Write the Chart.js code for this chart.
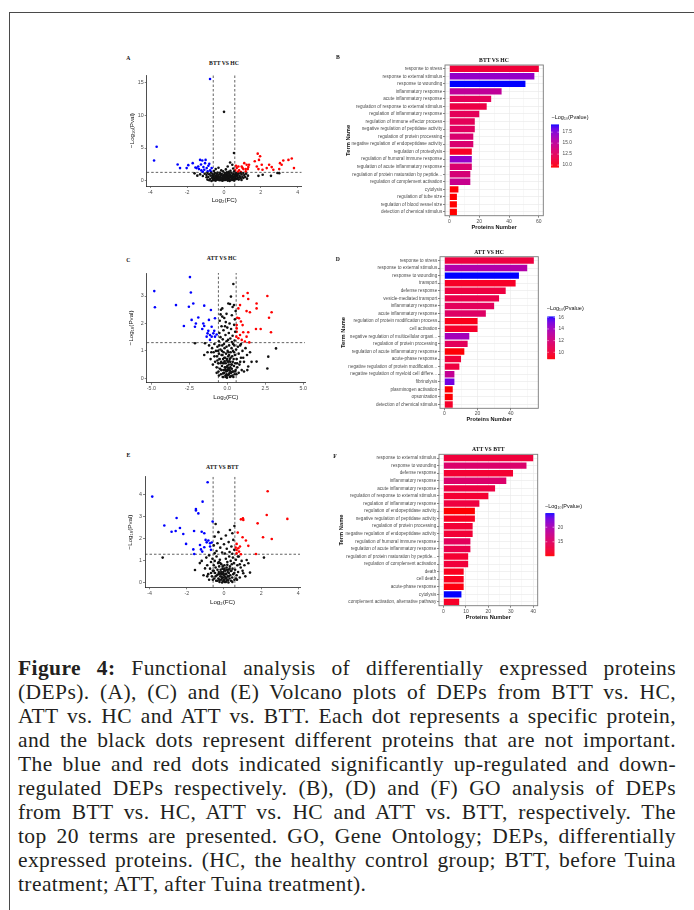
<!DOCTYPE html>
<html><head><meta charset="utf-8">
<script src="https://cdn.jsdelivr.net/npm/chart.js@4.4.1/dist/chart.umd.min.js"></script>
<style>
body{margin:0;background:#fff;}
#page{position:relative;width:694px;height:910px;overflow:hidden;background:#fff;}
canvas{position:absolute;}
.lbl{position:absolute;font-family:'Liberation Serif',serif;font-weight:bold;font-size:5.7px;color:#111;transform:translate(-50%,-50%);white-space:nowrap;}
.cap{position:absolute;left:18px;font-family:'Liberation Serif',serif;font-size:21.5px;letter-spacing:0.4px;line-height:24px;color:#231f20;white-space:nowrap;}
</style></head>
<body><div id="page">
<div style="position:absolute;left:9px;top:12px;right:0;height:1px;background:#4a4a4a"></div>
<div style="position:absolute;left:9px;top:12px;width:1px;bottom:0;background:#4a4a4a"></div>
</div>
<script>
// ---------------- DATA ----------------
const FC_CUT = 0.585, P_CUT = 1.301;

// Panel A: BTT VS HC volcano  [log2FC, -log10 P]
const aBlue = [[-0.76,15.5],[-3.66,5.2],[-3.8,3.1],[-2.52,2.5],[-2.39,1.95],[-2.03,1.95],[-1.94,2.4],[-1.7,2.7],[-1.3,3.2],[-1.18,3.1],[-1.4,2.2],[-1.49,1.95],[-1.25,2.5],[-1.12,2.1],[-1.03,2.7],[-0.94,1.95],[-0.85,2.3],[-1.07,1.7],[-0.76,1.6],[-0.67,1.95],[-1.23,1.6],[-1.36,1.8],[-0.89,1.45],[-1.0,3.2],[-0.7,1.4],[-1.55,2.05],[-0.8,2.6],[-1.15,1.4]];
const aRed = [[1.18,1.8],[0.69,1.95],[0.82,1.6],[0.96,2.2],[1.1,2.7],[1.23,2.46],[1.32,2.1],[0.92,1.35],[1.05,1.8],[0.6,1.6],[0.78,2.2],[1.18,1.45],[1.36,2.46],[1.29,1.8],[1.83,4.15],[1.96,3.75],[1.67,3.0],[1.9,3.2],[2.05,2.46],[1.78,2.2],[2.09,1.7],[1.87,1.8],[2.32,1.95],[2.45,2.46],[2.59,2.1],[2.68,1.7],[3.04,2.7],[3.22,3.1],[3.5,3.2],[3.68,3.4],[3.8,1.95],[3.13,2.46],[3.0,1.8],[0.75,1.4],[1.0,2.0],[0.65,2.3]];
const aGrey = [[0.0,10.5],[0.54,4.25],[0.33,2.8],[0.45,2.46],[0.2,2.2],[-0.3,2.0],[0.5,1.9],[-0.45,1.8],[0.1,1.75],[-0.15,1.6],[0.35,1.55],[0.55,1.45],[-0.55,1.5],[-0.05,1.45],[0.25,1.4],
[-1.05,1.1],[-0.95,0.9],[-0.9,1.2],[-0.85,0.6],[-0.8,1.0],[-0.75,0.3],[-0.72,0.8],[-0.7,1.25],[-0.65,0.5],[-0.62,1.05],[-0.6,0.15],[-0.58,0.7],[-0.55,0.95],[-0.52,0.35],[-0.5,1.2],[-0.48,0.6],[-0.45,0.05],[-0.43,0.85],[-0.4,0.4],[-0.38,1.1],[-0.35,0.2],[-0.33,0.7],[-0.3,0.95],[-0.28,0.45],[-0.25,0.1],[-0.23,1.25],[-0.2,0.6],[-0.18,0.3],[-0.15,0.85],[-0.12,1.05],[-0.1,0.5],[-0.08,0.02],[-0.05,0.75],[-0.03,0.3],[0.0,0.95],[0.02,0.55],[0.04,1.2],[0.06,0.15],[0.08,0.7],[0.1,0.4],[0.12,1.0],[0.14,0.2],[0.16,0.6],[0.18,0.9],[0.2,0.05],[0.22,0.45],[0.24,1.15],[0.26,0.75],[0.28,0.3],[0.3,0.55],[0.32,0.95],[0.35,0.1],[0.38,0.65],[0.4,1.25],[0.42,0.35],[0.45,0.85],[0.48,0.5],[0.5,1.05],[0.52,0.2],[0.55,0.7],[0.58,0.4],[0.6,1.0],[0.63,0.6],[0.66,1.2],[0.7,0.3],[0.73,0.85],[0.76,0.5],[0.8,1.1],[0.85,0.75],[0.9,0.4],[0.95,1.0],[1.0,0.65],[1.05,1.2],[1.1,0.9],[1.2,1.1],[1.3,0.8],[-1.3,1.0],[-1.45,0.8],[-1.6,1.15],[1.87,0.77],[2.1,0.95],[2.55,0.77],[3.0,1.18],[2.9,1.2],[-0.35,1.28],[0.15,1.3],[-0.68,0.0],[0.3,0.0],[-0.2,0.9],[0.05,0.4],[-0.1,0.25],[0.1,0.8],[-0.4,0.65],[0.45,0.15],[0.65,0.85],[-0.25,0.55],[0.2,1.05],
[-0.9,0.2],[-0.8,0.1],[-0.6,0.45],[-0.5,0.1],[-0.35,0.5],[-0.15,0.1],[-0.05,0.55],[0.0,0.15],[0.05,0.9],[0.12,0.55],[0.25,0.2],[0.35,0.8],[0.45,0.6],[0.55,0.05],[0.62,0.25],[0.7,0.7],[0.8,0.2],[0.88,0.55],[0.95,0.15],[1.05,0.45],[1.15,0.6],[1.25,0.35],[-0.95,0.55],[-1.15,0.75],[-0.3,0.3],[0.15,0.35],[-0.45,0.25],[0.4,0.45],[-0.2,1.1],[0.3,1.2],[0.7,1.05],[0.9,1.25],[-0.6,0.85]];
const aXTicks = [-4,-2,0,2,4], aXLabels = ['-4','-2','0','2','4'];
const aYTicks = [0,5,10,15], aYLabels = ['0','5','10','15'];

// Panel C: ATT VS HC volcano
const cBlue = [[-4.81,3.18],[-4.77,2.59],[-3.38,2.67],[-2.46,3.69],[-2.4,3.13],[-2.53,2.61],[-2.24,2.73],[-2.35,2.13],[-2.86,1.91],[-1.91,2.22],[-2.07,2.0],[-2.13,1.88],[-1.52,2.65],[-1.58,2.0],[-1.52,1.91],[-1.65,1.8],[-1.36,1.52],[-1.08,2.49],[-1.21,2.13],[-0.81,2.19],[-1.03,1.88],[-1.25,1.73],[-1.14,1.58],[-0.92,1.64],[-0.81,1.52],[-1.03,1.52],[-0.7,1.6],[-1.14,1.4],[-0.86,1.73],[-1.3,1.64]];
const cRed = [[1.34,3.11],[1.05,3.0],[1.38,2.89],[0.84,2.67],[0.73,2.55],[1.27,2.45],[1.49,2.41],[1.93,2.73],[1.93,2.55],[2.64,3.0],[2.92,2.41],[2.75,2.21],[1.89,1.8],[2.2,1.8],[2.88,1.68],[0.66,2.21],[0.77,2.19],[0.9,2.07],[1.01,1.94],[0.62,1.94],[0.62,1.7],[0.84,1.58],[1.05,1.68],[1.27,1.52],[1.38,1.68],[0.6,1.52],[0.73,1.46],[0.95,1.4],[1.16,1.34],[1.45,1.31],[0.62,1.82]];
const cGrey = [[0.4,3.44],[0.24,2.98],[0.18,2.71],[0.44,2.67],[0.07,2.73],[-0.33,2.55],[-0.44,2.33],[-0.33,2.25],[-0.2,2.2],[0.3,2.3],[0.5,2.15],[-0.5,2.1],[-0.1,2.05],[0.15,2.0],[0.45,1.95],[-0.38,1.9],[0.0,1.85],[0.25,1.8],[-0.25,1.75],[0.52,1.7],[-0.52,1.65],[0.1,1.65],[-0.12,1.58],[0.35,1.55],[-0.45,1.5],[0.2,1.45],[-0.3,1.42],[0.05,1.4],[0.48,1.38],[-0.05,1.35],[0.3,1.32],[-0.55,1.35],[-0.15,1.9],[0.55,2.45],[-0.05,2.35],[0.35,2.6],[-0.42,2.5],
[-1.52,0.85],[-2.13,1.28],[-1.47,1.28],[-1.2,1.2],[-1.0,1.1],[-0.9,0.95],[-1.1,0.7],[-0.85,1.25],[-0.8,0.6],[-0.75,1.0],[-0.7,0.4],[-0.68,0.8],[-0.65,1.15],[-0.6,0.55],[-0.58,0.25],[-0.55,0.9],[-0.52,1.2],[-0.5,0.7],[-0.48,0.35],[-0.45,1.05],[-0.42,0.15],[-0.4,0.6],[-0.38,0.85],[-0.35,0.45],[-0.33,1.2],[-0.3,0.05],[-0.28,0.7],[-0.26,0.3],[-0.24,0.95],[-0.22,0.55],[-0.2,0.2],[-0.18,1.1],[-0.16,0.4],[-0.14,0.75],[-0.12,0.1],[-0.1,0.55],[-0.08,0.9],[-0.06,0.25],[-0.04,0.65],[-0.02,0.02],[0.0,0.45],[0.02,1.0],[0.04,0.3],[0.06,0.8],[0.08,0.12],[0.1,0.5],[0.12,1.2],[0.14,0.35],[0.16,0.7],[0.18,0.05],[0.2,0.6],[0.22,0.95],[0.24,0.2],[0.26,0.5],[0.28,1.1],[0.3,0.35],[0.32,0.8],[0.34,0.1],[0.36,0.6],[0.38,1.0],[0.4,0.25],[0.42,0.7],[0.44,0.45],[0.46,1.2],[0.48,0.15],[0.5,0.85],[0.52,0.55],[0.55,0.3],[0.58,1.05],[0.62,0.7],[0.66,0.4],[0.7,1.15],[0.75,0.9],[0.8,0.5],[0.85,1.2],[0.9,0.75],[0.95,0.3],[1.0,1.0],[1.1,0.6],[1.2,1.1],[1.3,0.85],[1.38,0.43],[1.32,0.3],[1.5,0.95],[1.6,0.6],[1.93,0.61],[2.64,0.36],[2.7,0.79],[3.21,1.09],[-0.05,0.15],[0.05,0.6],[-0.15,0.3],[0.15,0.2],[-0.25,0.05],[0.25,0.08],[0.0,0.28],[-0.1,0.4],[0.1,0.15],[-0.3,0.55],[0.3,0.5],[-0.2,0.75],[0.2,0.4],[-0.4,0.3],[0.35,0.25],[-0.05,1.15],[0.12,0.85],[-0.35,1.0],[0.45,0.95],[0.6,0.15],[-0.6,1.0],[-0.95,0.5],[0.9,1.25],[1.1,0.25],[-1.3,0.95],[-0.7,0.2],[0.75,0.2],
[-0.08,0.05],[0.06,0.38],[-0.18,0.62],[0.18,0.28],[-0.28,0.18],[0.28,0.22],[-0.12,0.33],[0.12,0.62],[0.0,0.1],[-0.02,0.7],[0.22,0.75],[-0.32,0.85],[0.4,0.05],[-0.45,0.55],[0.5,0.25],[-0.55,0.1],[0.65,0.55],[-0.65,0.65],[0.85,0.6],[-0.85,0.8],[1.05,0.75],[-1.05,0.95],[0.08,0.95],[-0.22,1.25],[0.38,1.25]];
const cXTicks = [-5,-2.5,0,2.5,5], cXLabels = ['-5.0','-2.5','0.0','2.5','5.0'];
const cYTicks = [0,1,2,3], cYLabels = ['0','1','2','3'];

// Panel E: ATT VS BTT volcano
const eBlue = [[-0.88,4.56],[-3.86,3.91],[-1.15,3.68],[-1.51,3.35],[-1.51,3.28],[-1.38,3.15],[-2.55,2.94],[-3.21,2.6],[-2.82,2.32],[-2.6,2.35],[-2.37,2.49],[-2.19,2.22],[-2.04,1.77],[-1.61,2.35],[-1.65,1.52],[-1.6,1.31],[-1.2,2.32],[-1.06,2.25],[-0.99,1.95],[-0.84,1.92],[-0.75,1.8],[-0.66,1.83],[-0.93,1.84],[-0.75,1.65],[-0.61,2.78],[-1.29,1.72],[-1.24,1.52],[-1.17,1.42],[-0.7,1.5],[-1.06,1.62]];
const eRed = [[2.35,4.15],[2.3,3.08],[3.41,2.9],[1.81,2.7],[0.91,2.88],[1.02,2.93],[1.04,2.85],[0.74,2.28],[1.0,2.07],[1.18,1.92],[1.31,1.68],[2.1,2.07],[2.57,1.99],[0.68,1.77],[0.86,1.65],[0.77,1.57],[0.68,1.49],[0.81,1.42],[0.68,1.34],[1.72,1.31],[0.91,1.3],[0.63,1.6]];
const eGrey = [[0.56,2.58],[0.32,2.4],[-0.45,2.67],[-0.3,2.3],[0.45,2.25],[-0.5,2.1],[0.1,2.15],[-0.15,2.0],[0.5,1.95],[0.25,1.85],[-0.35,1.8],[0.0,1.75],[-0.55,1.7],[0.4,1.65],[-0.2,1.6],[0.15,1.55],[0.55,1.5],[-0.4,1.45],[0.3,1.4],[-0.1,1.38],[0.05,1.33],[-0.5,1.35],[0.45,1.32],[-3.3,1.15],[2.15,1.15],[1.22,1.04],[1.31,0.89],[1.4,0.47],[1.04,0.44],[-1.56,0.59],[-1.02,0.66],[-1.2,1.0],[-0.95,1.15],[-0.9,0.8],[-0.85,0.4],[-0.8,1.25],[-0.75,0.65],[-0.7,0.95],[-0.65,0.3],[-0.62,1.1],[-0.6,0.55],[-0.55,0.8],[-0.52,0.2],[-0.5,1.0],[-0.48,0.45],[-0.45,0.7],[-0.42,0.1],[-0.4,1.2],[-0.38,0.35],[-0.35,0.6],[-0.32,0.9],[-0.3,0.2],[-0.28,0.5],[-0.26,0.75],[-0.24,0.05],[-0.22,1.05],[-0.2,0.3],[-0.18,0.6],[-0.16,0.15],[-0.14,0.85],[-0.12,0.4],[-0.1,0.02],[-0.08,0.65],[-0.06,0.25],[-0.04,0.5],[-0.02,0.1],[0.0,0.35],[0.02,0.8],[0.04,0.05],[0.06,0.55],[0.08,0.2],[0.1,1.1],[0.12,0.4],[0.14,0.7],[0.16,0.12],[0.18,0.95],[0.2,0.3],[0.22,0.6],[0.24,0.02],[0.26,0.45],[0.28,1.2],[0.3,0.2],[0.32,0.75],[0.34,0.35],[0.36,1.0],[0.38,0.1],[0.4,0.55],[0.42,0.85],[0.44,0.25],[0.46,0.65],[0.48,1.15],[0.5,0.4],[0.53,0.9],[0.56,0.15],[0.6,0.6],[0.64,1.05],[0.68,0.35],[0.72,0.8],[0.76,0.5],[0.8,1.2],[0.85,0.25],[0.9,0.7],[0.95,1.0],[1.0,0.55],[1.1,0.8],[1.15,0.3],[-1.1,0.35],[-1.3,0.9],[0.0,0.15],[-0.05,0.42],[0.05,0.28],[-0.15,0.5],[0.15,0.6],[-0.25,0.15],[0.25,0.3],[0.1,0.05],[-0.1,0.2],[0.2,0.5],[-0.3,0.4],[0.0,0.6],[-0.2,0.9],[0.35,0.55],[-0.6,0.15],[0.65,0.2],[-0.7,0.45],[0.75,1.2],
[-0.04,0.08],[0.07,0.42],[-0.13,0.28],[0.13,0.22],[-0.22,0.42],[0.22,0.12],[0.03,0.65],[-0.07,0.75],[0.3,0.65],[-0.35,0.1],[0.45,0.05],[-0.45,0.3],[0.55,0.45],[-0.55,0.55],[0.7,0.15],[-0.8,0.15],[0.85,0.85],[-0.9,0.3],[0.18,0.82],[-0.28,0.95]];
const eXTicks = [-4,-2,0,2,4], eXLabels = ['-4','-2','0','2','4'];
const eYTicks = [0,1,2,3,4], eYLabels = ['0','1','2','3','4'];

// Panel B: BTT VS HC GO terms
const bTerms = ['response to stress','response to external stimulus','response to wounding','inflammatory response','acute inflammatory response','regulation of response to external stimulus','regulation of inflammatory response','regulation of immune effector process','negative regulation of peptidase activity','regulation of protein processing','negative regulation of endopeptidase activity','regulation of proteolysis','regulation of humoral immune response','regulation of acute inflammatory response','regulation of protein maturation by peptide...','regulation of complement activation','cytolysis','regulation of tube size','regulation of blood vessel size','detection of chemical stimulus'];
const bCounts = [60,57,51,35,28,25,20,17,17,16,16,15,15,15,14,14,6,5,5,5];
const bLogP = [11.0,17.0,19.2,15.0,12.3,11.5,12.3,12.3,12.6,13.2,13.2,10.3,17.0,13.2,13.5,14.5,9.6,9.5,9.5,9.5];
const bXMajor = [0,20,40,60], bXMinor = [10,30,50];
const bLegendTicks = [10,12.5,15,17.5], bLegendLabels = ['10.0','12.5','15.0','17.5'];

// Panel D: ATT VS HC GO terms
const dTerms = ['response to stress','response to external stimulus','response to wounding','transport','defense response','vesicle-mediated transport','inflammatory response','acute inflammatory response','regulation of protein modification process','cell activation','negative regulation of multicellular organi...','regulation of protein processing','regulation of acute inflammatory response','acute-phase response','negative regulation of protein modification...','negative regulation of myeloid cell differe...','fibrinolysis','plasminogen activation','opsonization','detection of chemical stimulus'];
const dCounts = [54,50,45,43,37,33,30,25,20,20,15,14,12,10,9,6,6,5,5,5];
const dLogP = [10.2,13.5,16.1,9.5,10.2,10.5,11.0,11.3,9.2,9.6,14.0,11.0,8.9,10.0,10.2,12.8,15.2,8.85,8.9,9.6];
const dXMajor = [0,20,40], dXMinor = [10,30,50];
const dLegendTicks = [10,12,14,16], dLegendLabels = ['10','12','14','16'];

// Panel F: ATT VS BTT GO terms
const fTerms = ['response to external stimulus','response to wounding','defense response','inflammatory response','acute inflammatory response','regulation of response to external stimulus','regulation of inflammatory response','regulation of endopeptidase activity','negative regulation of peptidase activity','regulation of protein processing','negative regulation of endopeptidase activity','regulation of humoral immune response','regulation of acute inflammatory response','regulation of protein maturation by peptide...','regulation of complement activation','death','cell death','acute-phase response','cytolysis','complement activation, alternative pathway'];
const fCounts = [40,37,31,28,23,20,16,14,14,13,13,12,12,11,11,9,9,9,8,7];
const fLogP = [12.5,15.5,12.0,15.5,13.0,12.0,12.8,10.1,11.2,12.2,12.2,14.5,13.5,12.0,12.5,11.0,11.0,10.5,24.8,11.5];
const fXMajor = [0,10,20,30,40], fXMinor = [5,15,25,35];
const fLegendTicks = [15,20], fLegendLabels = ['15','20'];

// ---------------- HELPERS ----------------
const SANS = "'Liberation Sans', Arial, sans-serif";
Chart.defaults.font.family = SANS;

function s2l(c){c/=255;return c<=0.04045?c/12.92:Math.pow((c+0.055)/1.055,2.4);}
function l2s(c){c=c<=0.0031308?12.92*c:1.055*Math.pow(c,1/2.4)-0.055;return Math.round(Math.max(0,Math.min(1,c))*255);}
function toLab(rgb){const [R,G,B]=rgb.map(s2l);
  const X=(0.4124*R+0.3576*G+0.1805*B)/0.95047,Y=0.2126*R+0.7152*G+0.0722*B,Z=(0.0193*R+0.1192*G+0.9505*B)/1.08883;
  const f=t=>t>0.008856?Math.cbrt(t):7.787*t+16/116;
  return [116*f(Y)-16,500*(f(X)-f(Y)),200*(f(Y)-f(Z))];}
function fromLab([L,a,b]){const fy=(L+16)/116,fx=fy+a/500,fz=fy-b/200;
  const fi=t=>t*t*t>0.008856?t*t*t:(t-16/116)/7.787;
  const X=fi(fx)*0.95047,Y=fi(fy),Z=fi(fz)*1.08883;
  return [l2s(3.2406*X-1.5372*Y-0.4986*Z),l2s(-0.9689*X+1.8758*Y+0.0415*Z),l2s(0.0557*X-0.2040*Y+1.0570*Z)];}
const LAB_LO = toLab([255,0,0]), LAB_HI = toLab([0,0,255]);
function rampColor(t){t=Math.max(0,Math.min(1,t));const c=fromLab(LAB_LO.map((v,i)=>v+(LAB_HI[i]-v)*t));return `rgb(${c[0]},${c[1]},${c[2]})`;}

const page = document.getElementById('page');
function addCanvas(l,t,w,h){const c=document.createElement('canvas');c.width=w;c.height=h;c.style.left=l+'px';c.style.top=t+'px';c.style.width=w+'px';c.style.height=h+'px';page.appendChild(c);return c;}
function addLabel(text,x,y){const d=document.createElement('div');d.className='lbl';d.textContent=text;d.style.left=x+'px';d.style.top=y+'px';page.appendChild(d);}
function zeroPad(s){s.paddingLeft=0;s.paddingRight=0;s.paddingTop=0;s.paddingBottom=0;}

const framePlugin = {id:'frame', afterDatasetsDraw(ch){const a=ch.chartArea,x=ch.ctx;x.save();x.strokeStyle='#7a7a7a';x.lineWidth=0.9;x.strokeRect(a.left,a.top,a.right-a.left,a.bottom-a.top);x.restore();}};

function volcano(g){
  const [cl,ct,cw,ch]=g.canvas, [al,at,ar,ab]=g.area;
  const cv=addCanvas(cl,ct,cw,ch);
  const pts=a=>a.map(p=>({x:p[0],y:p[1]}));
  const dash={showLine:true,borderColor:'#3a3a3a',borderWidth:0.8,borderDash:[2.5,2],pointRadius:0,fill:false};
  new Chart(cv,{type:'scatter',
    data:{datasets:[
      {data:pts(g.grey),backgroundColor:'#111',pointRadius:1.3,borderWidth:0},
      {data:pts(g.blue),backgroundColor:'#0000ff',pointRadius:1.3,borderWidth:0},
      {data:pts(g.red),backgroundColor:'#ff0000',pointRadius:1.3,borderWidth:0},
      Object.assign({data:[{x:-FC_CUT,y:g.yr[0]},{x:-FC_CUT,y:g.yr[1]}]},dash),
      Object.assign({data:[{x:FC_CUT,y:g.yr[0]},{x:FC_CUT,y:g.yr[1]}]},dash),
      Object.assign({data:[{x:g.xr[0],y:P_CUT},{x:g.xr[1],y:P_CUT}]},dash)
    ]},
    options:{responsive:false,animation:false,events:[],
      layout:{autoPadding:false,padding:{left:0,top:at-ct,right:cl+cw-ar,bottom:0}},
      plugins:{legend:{display:false},tooltip:{enabled:false}},
      scales:{
        x:{type:'linear',min:g.xr[0],max:g.xr[1],
          afterBuildTicks:s=>{s.ticks=g.xt.map(v=>({value:v}));},
          afterFit:s=>{s.height=ct+ch-ab;zeroPad(s);},
          ticks:{autoSkip:false,maxRotation:0,padding:1,color:'#4d4d4d',font:{size:5.3},callback:(v)=>g.xl[g.xt.indexOf(v)]},
          grid:{display:true,drawOnChartArea:false,drawTicks:true,tickLength:2,tickColor:'#333',tickWidth:0.6},
          border:{display:true,color:'#222',width:0.8},
          title:{display:true,text:'Log₂(FC)',color:'#111',font:{size:6.2},padding:{top:0,bottom:g.xtp}}},
        y:{type:'linear',min:g.yr[0],max:g.yr[1],
          afterBuildTicks:s=>{s.ticks=g.yt.map(v=>({value:v}));},
          afterFit:s=>{s.width=al-cl;zeroPad(s);},
          ticks:{autoSkip:false,padding:1,color:'#4d4d4d',font:{size:5.3},callback:(v)=>g.yl[g.yt.indexOf(v)]},
          grid:{display:true,drawOnChartArea:false,drawTicks:true,tickLength:2,tickColor:'#333',tickWidth:0.6},
          border:{display:true,color:'#222',width:0.8},
          title:{display:true,text:'−Log₁₀(Pval)',color:'#111',font:{size:6.2},padding:{top:g.ytp,bottom:0}}}
      }}});
}

function goBar(g){
  const [cl,ct,cw,ch]=g.canvas, [al,at,ar,ab]=g.area;
  const cv=addCanvas(cl,ct,cw,ch);
  const lo=Math.min(...g.logp), hi=Math.max(...g.logp);
  const col=v=>rampColor((v-lo)/(hi-lo));
  const isMajor=v=>g.major.includes(v);
  const lg=g.legend;
  const colorbar={id:'colorbar',afterDraw(c){const x=c.ctx;x.save();
    const L=lg.bar[0]-cl,R=lg.bar[1]-cl,T=lg.bar[2]-ct,B=lg.bar[3]-ct;
    const n=120;for(let i=0;i<n;i++){const t0=i/n;x.fillStyle=rampColor(t0+0.5/n);x.fillRect(L,B-(i+1)*(B-T)/n-0.2,R-L,(B-T)/n+0.4);}
    x.fillStyle='#111';x.font=`5.5px ${SANS}`;x.textBaseline='middle';x.textAlign='left';
    x.fillText('−Log₁₀(Pvalue)',lg.title[0]-cl,lg.title[1]-ct);
    x.font=`4.8px ${SANS}`;x.fillStyle='#4d4d4d';
    lg.ticks.forEach((v,i)=>{const y=B-(v-lo)/(hi-lo)*(B-T);
      x.strokeStyle='#fff';x.lineWidth=0.5;x.beginPath();x.moveTo(L,y);x.lineTo(L+(R-L)*0.2,y);x.moveTo(R,y);x.lineTo(R-(R-L)*0.2,y);x.stroke();
      x.fillText(lg.labels[i],R+3.5,y);});
    x.restore();}};
  new Chart(cv,{type:'bar',
    data:{labels:g.terms,datasets:[{data:g.counts,backgroundColor:g.logp.map(col),borderWidth:0,barPercentage:0.85,categoryPercentage:1}]},
    options:{indexAxis:'y',responsive:false,animation:false,events:[],
      layout:{autoPadding:false,padding:{left:0,top:at-ct,right:cl+cw-ar,bottom:0}},
      plugins:{legend:{display:false},tooltip:{enabled:false}},
      scales:{
        x:{type:'linear',min:g.xr[0],max:g.xr[1],
          afterBuildTicks:s=>{s.ticks=[...g.major,...g.minor].sort((a,b)=>a-b).map(v=>({value:v}));},
          afterFit:s=>{s.height=ct+ch-ab;zeroPad(s);},
          ticks:{autoSkip:false,maxRotation:0,padding:0.5,color:'#4d4d4d',font:{size:5},callback:v=>isMajor(v)?String(v):''},
          grid:{color:'#ebebeb',lineWidth:c=>(c.tick&&isMajor(c.tick.value))?0.7:0.35,drawTicks:true,tickLength:2,
                tickColor:c=>(c.tick&&isMajor(c.tick.value))?'#333':'rgba(0,0,0,0)',tickWidth:0.6},
          border:{display:false},
          title:{display:true,text:'Proteins Number',color:'#111',font:{size:5.6,weight:'bold'},padding:{top:0,bottom:g.xtp}}},
        y:{type:'category',offset:true,
          afterFit:s=>{s.width=al-cl;zeroPad(s);},
          ticks:{autoSkip:false,padding:0.8,color:'#4d4d4d',font:{size:4.6}},
          grid:{offset:false,color:'#ebebeb',lineWidth:0.7,drawTicks:true,tickLength:2,tickColor:'#333',tickWidth:0.6},
          border:{display:false},
          title:{display:true,text:'Term Name',color:'#111',font:{size:5.8,weight:'bold'},padding:{top:g.ytp,bottom:0}}}
      }},
    plugins:[framePlugin,colorbar]});
}

// ---------------- BUILD ----------------
volcano({canvas:[124,70,186,134],area:[146.7,75,301.7,186],xr:[-4.2,4.22],yr:[-0.77,16.1],
  xt:aXTicks,xl:aXLabels,yt:aYTicks,yl:aYLabels,grey:aGrey,blue:aBlue,red:aRed,xtp:0.3,ytp:4.6});
volcano({canvas:[124,265,186,140],area:[146.7,273,305,382.7],xr:[-5.31,5.12],yr:[-0.16,3.84],
  xt:cXTicks,xl:cXLabels,yt:cYTicks,yl:cYLabels,grey:cGrey,blue:cBlue,red:cRed,xtp:3.6,ytp:3.3});
volcano({canvas:[122,470,186,140],area:[145,476.7,300,587.3],xr:[-4.25,4.09],yr:[-0.195,4.81],
  xt:eXTicks,xl:eXLabels,yt:eYTicks,yl:eYLabels,grey:eGrey,blue:eBlue,red:eRed,xtp:3.6,ytp:4.3});

goBar({canvas:[340,50,272,184],area:[445,65,543.3,215.7],xr:[-3,63],terms:bTerms,counts:bCounts,logp:bLogP,
  major:bXMajor,minor:bXMinor,xtp:2.7,ytp:4.7,
  legend:{bar:[551,559,124.7,167.3],title:[551.5,117.7],ticks:bLegendTicks,labels:bLegendLabels}});
goBar({canvas:[335,245,272,185],area:[440,256.7,538.3,408.3],xr:[-2.7,56.7],terms:dTerms,counts:dCounts,logp:dLogP,
  major:dXMajor,minor:dXMinor,xtp:7.1,ytp:5.4,
  legend:{bar:[547.3,555,316.7,359],title:[546.7,308.3],ticks:dLegendTicks,labels:dLegendLabels}});
goBar({canvas:[333,450,272,176],area:[439,454.3,537.7,605.7],xr:[-2,42],terms:fTerms,counts:fCounts,logp:fLogP,
  major:fXMajor,minor:fXMinor,xtp:5.1,ytp:5.1,
  legend:{bar:[545.5,554.3,513.3,556],title:[545,506.7],ticks:fLegendTicks,labels:fLegendLabels}});

// panel letters and titles
addLabel('A',128.3,58.3); addLabel('BTT VS  HC',224,62.7);
addLabel('B',338,56.7);   addLabel('BTT VS  HC',494,60);
addLabel('C',128.3,260);  addLabel('ATT VS HC',221.7,257.7);
addLabel('D',337.7,259);  addLabel('ATT VS HC',489,251.5);
addLabel('E',128.3,455);  addLabel('ATT VS BTT',222.3,467.3);
addLabel('F',335,456);    addLabel('ATT VS BTT',488.3,449.3);

// caption: each line justified to 658px by word-spacing
const CAP_WIDTH = 658;
const capLines = [
 '<b>Figure 4:</b> Functional analysis of differentially expressed proteins',
 '(DEPs). (A), (C) and (E) Volcano plots of DEPs from BTT vs. HC,',
 'ATT vs. HC and ATT vs. BTT. Each dot represents a specific protein,',
 'and the black dots represent different proteins that are not important.',
 'The blue and red dots indicated significantly up-regulated and down-',
 'regulated DEPs respectively. (B), (D) and (F) GO analysis of DEPs',
 'from BTT vs. HC, ATT vs. HC and ATT vs. BTT, respectively. The',
 'top 20 terms are presented. GO, Gene Ontology; DEPs, differentially',
 'expressed proteins. (HC, the healthy control group; BTT, before Tuina',
 'treatment; ATT, after Tuina treatment).'];
capLines.forEach((t,i)=>{
  const d=document.createElement('div');d.className='cap';d.innerHTML=t;d.style.top=(656+24*i)+'px';page.appendChild(d);
  if(i<capLines.length-1){
    const w=d.getBoundingClientRect().width;
    const spaces=(d.textContent.match(/ /g)||[]).length;
    d.style.wordSpacing=((CAP_WIDTH-w)/spaces)+'px';
  }
});
</script>
</body></html>
